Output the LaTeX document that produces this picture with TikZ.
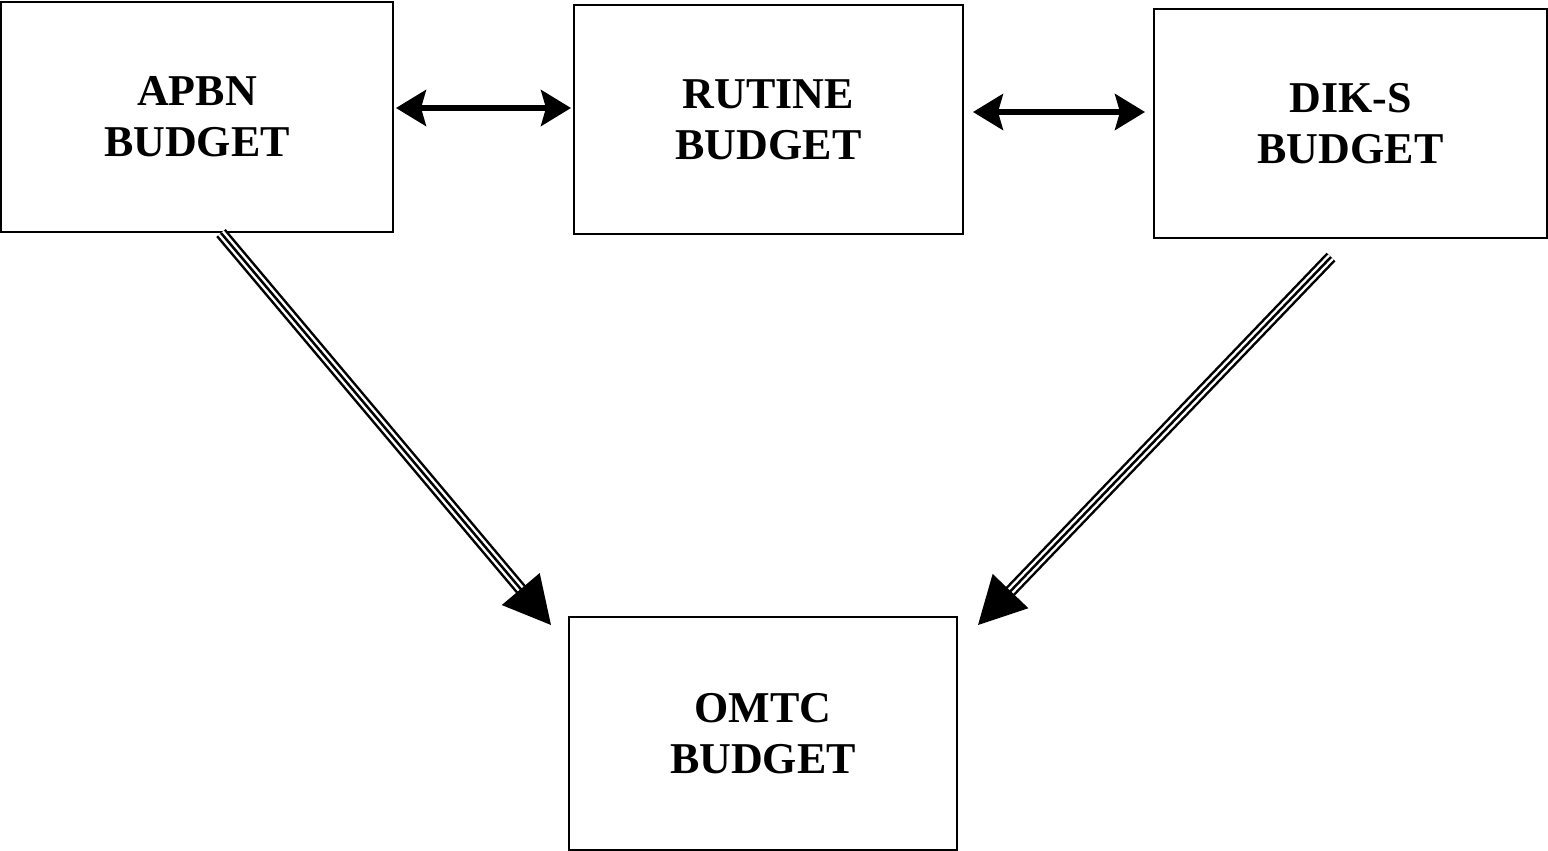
\documentclass[tikz,border=0pt]{standalone}
\usepackage{fontspec}
\setmainfont{Liberation Serif}
\usetikzlibrary{arrows.meta,calc}
\begin{document}
\begin{tikzpicture}[x=0.5pt,y=-0.5pt,
  box/.style={draw=black, line width=1pt, inner sep=0pt, align=center,
    font=\fontsize{22}{25.5}\selectfont\bfseries},
  link/.style={line width=2.6pt, {Stealth[length=15pt,width=18pt,inset=2.5pt]}-{Stealth[length=15pt,width=18pt,inset=2.5pt]}},
  triple/.style={line width=1.25pt, double=white, double distance=3.7pt, shorten >=20pt},
  flowtip/.style={line width=1.25pt, -{Triangle[length=23.5pt,width=24.5pt]}}]
\useasboundingbox (0,0) rectangle (1548,851);
% budget boxes
\node[box, minimum width=196pt, minimum height=115pt] (apbn) at (197,117) {APBN\\BUDGET};
\node[box, minimum width=194.5pt, minimum height=114.5pt] (rutine) at (768.5,119.5) {RUTINE\\BUDGET};
\node[box, minimum width=196.5pt, minimum height=114.5pt] (diks) at (1350.5,123.5) {DIK-S\\BUDGET};
\node[box, minimum width=194pt, minimum height=116.5pt] (omtc) at (763,733.5) {OMTC\\BUDGET};
% levels of the two-way links
\coordinate (y1) at (0,108);
\coordinate (y2) at (0,112);
\draw[link, shorten <=1pt, shorten >=1pt] (apbn.east |- y1) -- (rutine.west |- y1);
\draw[link, shorten <=4.5pt, shorten >=4pt] (rutine.east |- y2) -- (diks.west |- y2);
% flows into the OMTC budget
\coordinate (s1) at (apbn.south -| 221,0);
\coordinate (t1) at ($(omtc.north west)+(-17,9)$);
\coordinate (s2) at (1331,257);
\coordinate (t2) at ($(omtc.north east)+(20,9)$);
\draw[triple] (s1) -- (t1);
\draw[flowtip] (s1) -- (t1);
\draw[triple] (s2) -- (t2);
\draw[flowtip] (s2) -- (t2);
\end{tikzpicture}
\end{document}
